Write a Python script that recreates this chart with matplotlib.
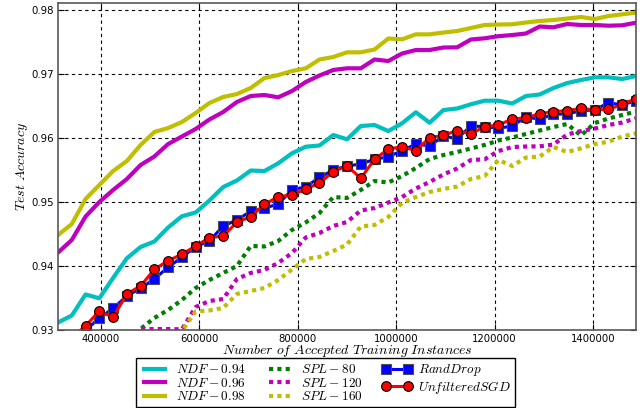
import numpy as np
import matplotlib
matplotlib.use("Agg")
import matplotlib.pyplot as plt

# number of accepted training instances (43 evaluation points)
instances = np.linspace(312500, 1487500, 43)

ndf_094 = [0.93117, 0.93227, 0.93555, 0.93495, 0.93813, 0.94120, 0.94297, 0.94383, 0.94602, 0.94777,
           0.94836, 0.95023, 0.95234, 0.95336, 0.95492, 0.95484, 0.95605, 0.95761, 0.95864, 0.95883,
           0.96047, 0.95980, 0.96187, 0.96203, 0.96109, 0.96230, 0.96402, 0.96239, 0.96437, 0.96461,
           0.96527, 0.96583, 0.96583, 0.96539, 0.96656, 0.96680, 0.96781, 0.96859, 0.96906, 0.96948,
           0.96948, 0.96922, 0.96969]
ndf_096 = [0.94211, 0.94406, 0.94773, 0.95000, 0.95187, 0.95359, 0.95578, 0.95711, 0.95906, 0.96023,
           0.96141, 0.96289, 0.96406, 0.96563, 0.96656, 0.96672, 0.96636, 0.96734, 0.96875, 0.96977,
           0.97063, 0.97089, 0.97089, 0.97227, 0.97203, 0.97320, 0.97375, 0.97375, 0.97414, 0.97417,
           0.97539, 0.97558, 0.97591, 0.97609, 0.97633, 0.97742, 0.97730, 0.97781, 0.97766, 0.97766,
           0.97755, 0.97761, 0.97802]
ndf_098 = [0.94484, 0.94656, 0.95047, 0.95266, 0.95484, 0.95641, 0.95891, 0.96094, 0.96156, 0.96250,
           0.96391, 0.96547, 0.96641, 0.96687, 0.96781, 0.96937, 0.96984, 0.97047, 0.97089, 0.97227,
           0.97266, 0.97339, 0.97339, 0.97383, 0.97555, 0.97542, 0.97620, 0.97620, 0.97648, 0.97672,
           0.97719, 0.97766, 0.97773, 0.97777, 0.97805, 0.97828, 0.97844, 0.97867, 0.97891, 0.97859,
           0.97906, 0.97933, 0.97958]

spl_80 = [0.9220, 0.9230, 0.9240, 0.9250, 0.9260, 0.9280, 0.93016, 0.93188, 0.93313, 0.93469,
          0.93656, 0.93781, 0.93891, 0.94000, 0.94313, 0.94305, 0.94391, 0.94563, 0.94680, 0.94828,
          0.95078, 0.95063, 0.95188, 0.95328, 0.95305, 0.95406, 0.95531, 0.95672, 0.95734, 0.95781,
          0.95836, 0.95891, 0.95961, 0.96008, 0.96063, 0.96117, 0.96172, 0.96219, 0.96039, 0.96234,
          0.96305, 0.96359, 0.96414]
spl_120 = [0.9200, 0.9210, 0.9220, 0.9230, 0.9245, 0.9280, 0.93010, 0.93015, 0.93015, 0.93010,
           0.93359, 0.93453, 0.93484, 0.93797, 0.93891, 0.93938, 0.94047, 0.94203, 0.94445, 0.94516,
           0.94625, 0.94688, 0.94867, 0.94906, 0.94992, 0.95078, 0.95211, 0.95313, 0.95430, 0.95523,
           0.95656, 0.95667, 0.95797, 0.95859, 0.95867, 0.95870, 0.95898, 0.96055, 0.96109, 0.96148,
           0.96203, 0.96242, 0.96308]
spl_160 = [0.9180, 0.9190, 0.9200, 0.9210, 0.9220, 0.9230, 0.9245, 0.9260, 0.9275, 0.92984,
           0.93289, 0.93305, 0.93344, 0.93563, 0.93609, 0.93656, 0.93781, 0.93945, 0.94109, 0.94141,
           0.94234, 0.94336, 0.94617, 0.94641, 0.94766, 0.94984, 0.95078, 0.95156, 0.95203, 0.95242,
           0.95359, 0.95406, 0.95656, 0.95563, 0.95695, 0.95711, 0.95859, 0.95781, 0.95839, 0.95906,
           0.95942, 0.96023, 0.96073]

rand_drop = [0.9275, 0.9290, 0.93000, 0.93183, 0.93339, 0.93531, 0.93652, 0.93797, 0.93980, 0.94136,
             0.94302, 0.94391, 0.94625, 0.94719, 0.94855, 0.94902, 0.94969, 0.95188, 0.95239, 0.95383,
             0.95500, 0.95563, 0.95594, 0.95667, 0.95708, 0.95802, 0.95906, 0.95878, 0.96031, 0.95988,
             0.96188, 0.96177, 0.96152, 0.96188, 0.96328, 0.96294, 0.96372, 0.96375, 0.96427, 0.96438,
             0.96552, 0.96516, 0.96586]
unfiltered_sgd = [0.9265, 0.92880, 0.93063, 0.93297, 0.93198, 0.93563, 0.93688, 0.93948, 0.94083, 0.94183,
                  0.94313, 0.94442, 0.94469, 0.94683, 0.94770, 0.94964, 0.95083, 0.95109, 0.95203, 0.95297,
                  0.95473, 0.95567, 0.95370, 0.95667, 0.95828, 0.95864, 0.95802, 0.96005, 0.96042, 0.96114,
                  0.96067, 0.96177, 0.96203, 0.96297, 0.96316, 0.96380, 0.96411, 0.96427, 0.96464, 0.96438,
                  0.96448, 0.96527, 0.96617]

xticks = [400000, 600000, 800000, 1000000, 1200000, 1400000]
yticks = [0.93, 0.94, 0.95, 0.96, 0.97, 0.98]

plt.rcParams['mathtext.fontset'] = 'cm'

c_cyan = (0, 0.75, 0.75)
c_mag = (0.75, 0, 0.75)
c_yel = (0.75, 0.75, 0)
c_grn = (0, 0.5, 0)

fig = plt.figure(figsize=(6.44, 4.08), dpi=100)
ax = fig.add_axes([0.0901, 0.1912, 0.8975, 0.8015])

ax.plot(instances, ndf_094, color=c_cyan, lw=3, label=r'$NDF-0.94$')
ax.plot(instances, ndf_096, color=c_mag, lw=3, label=r'$NDF-0.96$')
ax.plot(instances, ndf_098, color=c_yel, lw=3, label=r'$NDF-0.98$')
ax.plot(instances, spl_80, color=c_grn, lw=3, ls=(0, (1, 1)), label=r'$SPL-80$')
ax.plot(instances, spl_120, color=c_mag, lw=3, ls=(0, (1, 1)), label=r'$SPL-120$')
ax.plot(instances, spl_160, color=c_yel, lw=3, ls=(0, (1, 1)), label=r'$SPL-160$')
ax.plot(instances, rand_drop, color='b', lw=2.2, marker='s', ms=6.5,
        mec='0.3', mew=0.8, label=r'$RandDrop$')
ax.plot(instances, unfiltered_sgd, color='r', lw=2.2, marker='o', ms=7,
        mec='k', mew=0.8, label=r'$UnfilteredSGD$')

ax.set_xlim(312500, 1487500)
ax.set_ylim(0.93, 0.9811)
ax.set_xticks(xticks)
ax.set_yticks(yticks)
ax.set_xticklabels([str(t) for t in xticks])
ax.set_yticklabels(['%.2f' % t for t in yticks])
ax.tick_params(direction='in', top=True, right=True, labelsize=7.3, length=4, pad=3)
ax.grid(True, color='k', ls=(0, (3, 3)), lw=0.8)
for s in ax.spines.values():
    s.set_color('0.35')
    s.set_linewidth(1.2)

ax.set_xlabel(r'$Number\ of\ Accepted\ Training\ Instances$', fontsize=10, labelpad=-1)
ax.set_ylabel(r'$Test\ Accuracy$', fontsize=10, labelpad=1)

leg = ax.legend(ncol=3, loc='upper center', bbox_to_anchor=(0.5054, 0.1225),
                bbox_transform=fig.transFigure, borderaxespad=0, numpoints=2,
                fontsize=9.5, fancybox=False, framealpha=1, edgecolor='k',
                handlelength=2.2, handleheight=0.6, columnspacing=1.5,
                labelspacing=0.05, borderpad=0.3, handletextpad=0.5)
leg.get_frame().set_linewidth(1.0)

plt.savefig('out.png', dpi=100)
